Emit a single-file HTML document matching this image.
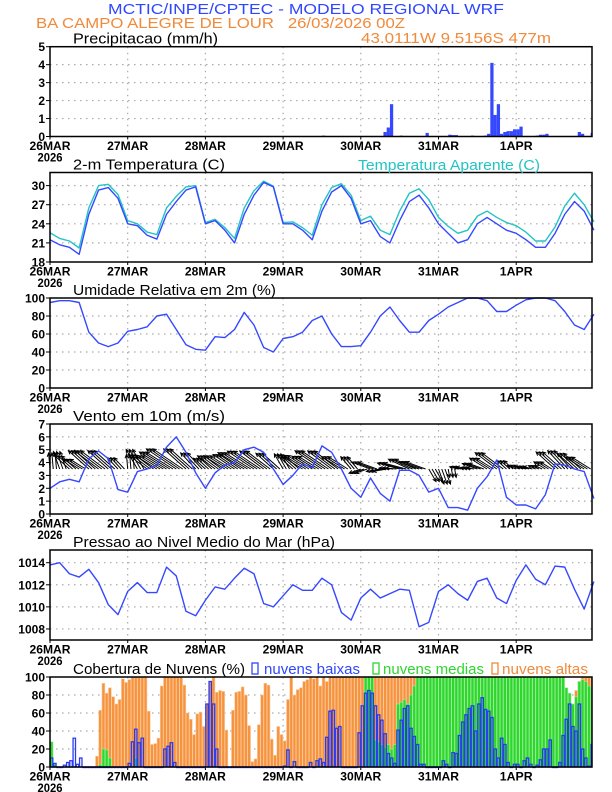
<!DOCTYPE html>
<html><head><meta charset="utf-8">
<style>
html,body{margin:0;padding:0;background:#fff;}
svg{display:block;font-family:"Liberation Sans",sans-serif;}
</style></head>
<body>
<svg id="chart" width="612" height="792" viewBox="0 0 612 792" xmlns="http://www.w3.org/2000/svg">
<rect x="0" y="0" width="612" height="792" fill="#fff"/>
<text x="108" y="14" font-size="15" fill="#2f46ff" textLength="396" lengthAdjust="spacingAndGlyphs">MCTIC/INPE/CPTEC - MODELO REGIONAL WRF</text>
<text x="36" y="28" font-size="15" fill="#f08a3c" textLength="369" lengthAdjust="spacingAndGlyphs" xml:space="preserve">BA CAMPO ALEGRE DE LOUR   26/03/2026 00Z</text>
<text x="361" y="43" font-size="15" fill="#f08a3c" textLength="190" lengthAdjust="spacingAndGlyphs">43.0111W 9.5156S 477m</text>
<g id="panels"></g>
</svg>
<script>
// ---------- DATA ----------
const dayLabels = ["26MAR","27MAR","28MAR","29MAR","30MAR","31MAR","1APR"];
const precipHourly = [
0,0,0,0,0,0,0,0,0,0,0,0, 0,0,0,0,0.03,0,0,0,0,0,0,0,
0,0,0.03,0,0,0,0,0,0,0,0,0, 0,0,0,0,0,0,0,0,0,0,0,0,
0,0,0,0,0,0,0,0,0,0,0,0, 0,0,0,0,0,0,0,0,0,0,0,0,
0,0,0,0,0,0,0,0,0,0,0,0, 0.05,0,0,0,0,0,0.03,0,0,0,0,0,
0,0,0,0,0,0,0,0.25,0.5,1.8,0,0, 0.05,0,0.03,0,0,0,0,0,0.2,0,0,0,
0,0,0,0.1,0.08,0.08,0,0,0,0,0.05,0, 0,0,0.05,0.15,4.1,1.2,1.8,0.15,0.25,0.3,0.3,0.4,
0.4,0.55,0,0,0,0,0.05,0.1,0.1,0.15,0,0, 0,0,0,0,0,0,0,0.25,0.15,0,0,0.2];
const precipTicks = [0,1,2,3,4,5];

const temp3h = [21.5,20.7,20.3,19.2,25.5,29.3,29.7,28.0,24.0,23.7,22.2,21.6,25.5,27.5,29.3,29.8,24.0,24.5,23.0,21.0,25.5,28.5,30.5,29.8,24.0,24.0,23.0,21.5,26.0,29.0,30.0,28.0,24.0,24.5,22.0,21.0,24.5,27.5,28.5,26.5,24.0,22.5,21.0,21.5,24.0,25.0,24.0,23.0,22.5,21.5,20.3,20.3,22.5,25.5,27.5,26.0,23.0];
const apparent3h = [22.6,21.7,21.3,20.2,26.5,30.0,30.2,28.6,24.5,24.0,22.7,22.3,26.5,28.3,29.8,30.0,24.2,24.7,23.4,21.7,26.5,29.2,30.7,29.9,24.2,24.3,23.4,22.2,27.0,29.7,30.3,28.5,24.5,25.2,23.0,22.3,26.0,28.8,29.5,27.8,25.0,23.6,22.5,23.0,25.2,26.0,25.0,24.2,23.7,22.7,21.3,21.3,23.5,26.8,28.8,27.0,24.3];
const tempTicks = [18,21,24,27,30];

const humidity3h = [95,97,97,95,62,50,46,50,63,65,68,80,82,65,48,43,42,57,56,65,84,70,45,40,55,57,62,75,80,60,46,46,47,62,80,90,75,62,62,75,82,90,95,100,100,97,85,85,92,98,100,100,97,85,70,65,82];
const humidityTicks = [0,20,40,60,80,100];

const windSpeed3h = [2.0,2.5,2.7,2.5,4.3,4.9,4.3,1.9,1.7,3.3,3.5,3.8,5.2,6.0,4.8,3.2,2.0,3.2,3.8,4.0,5.0,5.2,4.8,3.5,2.3,3.0,3.9,3.6,5.3,4.8,3.5,2.0,1.3,2.8,1.6,1.0,3.4,3.4,3.0,1.7,2.0,0.5,0.5,0.3,2.0,2.9,4.2,1.3,0.7,0.7,0.4,1.5,3.9,3.8,3.5,3.3,1.2];
const windDir3h = [95,110,138,148,138,143,138,133,95,120,143,148,148,146,138,133,138,143,148,146,148,146,143,138,120,138,148,148,146,143,148,130,200,160,190,175,165,155,160,300,290,280,165,170,160,148,143,138,158,165,155,148,138,133,138,148,130];
const windTicks = [0,1,2,3,4,5,6,7];

const pressure3h = [1013.8,1014.0,1013.0,1012.7,1013.4,1012.2,1010.2,1009.3,1011.4,1012.2,1011.3,1011.3,1013.6,1012.8,1009.6,1009.2,1010.6,1011.8,1011.6,1012.6,1013.5,1013.0,1010.3,1010.0,1011.0,1012.0,1011.5,1011.5,1012.6,1012.0,1009.5,1008.8,1010.8,1011.6,1010.8,1011.2,1011.6,1011.5,1008.2,1008.6,1011.4,1012.0,1011.2,1010.6,1012.3,1012.6,1010.8,1010.3,1012.4,1013.8,1012.5,1012.0,1013.7,1013.6,1011.6,1009.8,1012.3];
const pressureTicks = [1008,1010,1012,1014];

const cloudHigh = [
0,0,0,0,0,0,0,0,0,0,0,0, 0,0,12,63,93,82,88,78,70,75,98,94,
97,100,100,100,100,100,62,25,26,32,90,100, 100,100,100,100,100,91,60,53,36,59,61,45,
70,95,100,83,85,84,41,0,63,83,84,89, 80,46,6,9,47,80,93,91,31,13,45,36,
29,75,100,80,86,88,95,97,100,98,100,90, 100,95,100,100,100,100,100,100,100,100,100,100,
100,100,100,100,100,100,100,100,100,100,100,100, 100,100,100,100,100,100,100,100,100,100,100,100,
100,100,100,100,100,100,100,100,100,100,100,100, 100,100,100,100,100,100,100,100,100,100,100,100,
100,100,100,100,100,100,100,100,100,100,100,100, 100,100,100,80,75,70,85,95,100,100,100,100];
const cloudMid = [
28,3,0,0,0,0,0,0,0,0,0,0, 0,0,0,3,20,19,10,0,0,0,0,0,
0,0,10,0,0,0,0,0,0,0,0,0, 0,0,0,0,0,0,0,0,0,0,0,0,
0,0,0,0,0,0,0,0,0,0,0,0, 0,0,0,0,0,0,0,0,0,0,0,0,
0,0,0,0,0,0,0,0,0,0,0,0, 0,0,0,0,0,0,0,0,0,0,0,0,
0,100,100,100,30,28,25,22,25,20,25,70, 72,75,70,80,90,100,100,100,100,100,100,100,
100,100,100,100,100,100,100,100,100,100,100,100, 100,100,100,100,100,100,100,100,100,100,100,100,
100,100,100,100,100,100,100,100,100,100,100,100, 100,100,100,88,82,70,78,95,97,95,90,88];
const cloudLow = [
10,4,0,0,2,5,7,32,3,10,0,0, 0,0,0,0,0,0,0,0,0,0,0,0,
4,28,42,27,32,0,0,0,0,0,0,20, 23,27,5,0,0,0,0,0,0,0,0,0,
70,95,70,20,0,0,0,0,0,0,0,0, 0,0,0,0,0,0,0,0,0,0,0,0,
1,19,0,6,0,0,0,0,5,0,7,9, 5,33,62,63,43,45,0,0,0,0,0,38,
68,82,85,82,68,58,52,37,15,10,4,41, 52,65,68,43,34,25,3,3,0,0,0,0,
0,7,3,0,16,15,35,50,58,65,68,40, 70,77,64,62,55,20,10,32,25,5,0,3,
3,0,7,10,3,0,2,8,20,20,30,0, 0,5,35,53,70,45,40,70,20,10,1,25];
const cloudTicks = [0,20,40,60,80,100];

// ---------- LAYOUT ----------
const NS = "http://www.w3.org/2000/svg";
const X0 = 50, X1 = 592, DAYPX = 77.7;
const BLUE = "#3548ff";
const root = document.getElementById("panels");
function xAt(hour){ return X0 + hour * DAYPX / 24; }
function mk(tag, attrs, parent){
  const e = document.createElementNS(NS, tag);
  for (const k in attrs) e.setAttribute(k, attrs[k]);
  (parent || root).appendChild(e);
  return e;
}
function yScale(p){ return v => p.bottom - (v - p.min) / (p.max - p.min) * (p.bottom - p.top); }

function drawPanel(p){
  const g = mk("g", {});
  
  
  const ys = yScale(p);
  const grid = mk("g", {stroke:"#aaa","stroke-width":"1.2","stroke-dasharray":"1.5,4.5"}, g);
  
  
  p.ticks.forEach(t => { if (t > p.min && t < p.max) mk("line",{x1:X0,x2:X1,y1:ys(t),y2:ys(t)},grid); });
  for (let d = 1; d < 7; d++) mk("line",{x1:xAt(d*24),x2:xAt(d*24),y1:p.top,y2:p.bottom},grid);
  const title = mk("text",{x:73,y:p.top-3,"font-size":"15",fill:"#000",textLength:p.titleLen,lengthAdjust:"spacingAndGlyphs"},g);
  title.textContent = p.title;
  
  
  const yl = mk("g",{"font-size":"12","font-weight":"bold","text-anchor":"end",fill:"#000"},g);
  
  
  p.ticks.forEach(t => {
    const tx = mk("text",{x:45,y:ys(t)+4.5},yl); tx.textContent = t;
    mk("line",{x1:46,x2:50,y1:ys(t),y2:ys(t),stroke:"#000"},yl);
  });
  const xl = mk("g",{"font-size":"12","font-weight":"bold","text-anchor":"middle",fill:"#000"},g);
  
  
  dayLabels.forEach((lab,d) => {
    const tx = mk("text",{x:xAt(d*24),y:p.bottom+13.5,textLength:lab.length*8.2,lengthAdjust:"spacingAndGlyphs"},xl); tx.textContent = lab;
    mk("line",{x1:xAt(d*24),x2:xAt(d*24),y1:p.bottom,y2:p.bottom+3,stroke:"#000"},xl);
  });
  const yr = mk("text",{x:X0,y:p.bottom+25,textLength:"25",lengthAdjust:"spacingAndGlyphs"},xl); yr.textContent = "2026";
  const marks = mk("g",{},g);
  
  
  p.draw(marks, ys);
  const fr = mk("rect",{x:X0,y:p.top,width:X1-X0,height:p.bottom-p.top,fill:"none",stroke:"#000","stroke-width":"1.5"},g);
  
  
}
function linePath(arr, ys, step){
  return arr.map((v,i)=>(i?"L":"M")+xAt(i*step).toFixed(2)+","+ys(v).toFixed(2)).join("");
}
function addLine(g, arr, ys, color, name){
  const l = mk("path",{d:linePath(arr,ys,3),fill:"none",stroke:color,"stroke-width":"1.4","stroke-linejoin":"round"},g);
  
  
}
function clipX(x){ return Math.min(x, X1); }

// Precip
drawPanel({name:"precipitation",title:"Precipitacao (mm/h)",titleLen:145,top:46.7,bottom:136.5,min:0,max:5,ticks:precipTicks,
  draw:(g,ys)=>{ precipHourly.forEach((v,h)=>{ if(v<=0) return;
    const b = mk("rect",{x:xAt(h),y:ys(v),width:Math.max(0,clipX(xAt(h+1))-xAt(h)),height:ys(0)-ys(v),fill:BLUE},g);
    
     }); }});

// Temperature
drawPanel({name:"temperature",title:"2-m Temperatura (C)",titleLen:152,top:172.5,bottom:262,min:18,max:32.06,ticks:tempTicks,
  draw:(g,ys)=>{ addLine(g,apparent3h,ys,"#22c4c4","apparent-temperature-line"); addLine(g,temp3h,ys,BLUE,"temperature-line"); }});
(function(){ const t = mk("text",{x:358,y:170,"font-size":"15",fill:"#22c4c4",textLength:"182",lengthAdjust:"spacingAndGlyphs"});
  t.textContent = "Temperatura Aparente (C)";
  
   })();

// Humidity
drawPanel({name:"humidity",title:"Umidade Relativa em 2m (%)",titleLen:203,top:298,bottom:388,min:0,max:100,ticks:humidityTicks,
  draw:(g,ys)=>addLine(g,humidity3h,ys,BLUE,"humidity-line")});

// Wind
drawPanel({name:"wind",title:"Vento em 10m (m/s)",titleLen:152,top:424,bottom:514,min:0,max:7,ticks:windTicks,
  draw:(g,ys)=>{
    const ag = mk("g",{stroke:"#000","stroke-width":"1",fill:"none"},g);
    
    
    const by = ys(3.5);
    for (let h=0; h<168; h++){
      const i = Math.floor(h/3);
      const len = 6 + windSpeed3h[i]*5;
      const a = windDir3h[i]*Math.PI/180;
      const bx = xAt(h), tx = bx + len*Math.cos(a), ty = by - len*Math.sin(a);
      const ha = 0.45, hl = 4;
      const back = Math.atan2(by-ty, bx-tx);
      const p1x = tx + hl*Math.cos(back+ha), p1y = ty + hl*Math.sin(back+ha);
      const p2x = tx + hl*Math.cos(back-ha), p2y = ty + hl*Math.sin(back-ha);
      const ar = mk("path",{d:`M${bx},${by}L${tx},${ty}M${p1x},${p1y}L${tx},${ty}L${p2x},${p2y}`},ag);
      
      
    }
    addLine(g,windSpeed3h,ys,BLUE,"wind-speed-line");
  }});

// Pressure
drawPanel({name:"pressure",title:"Pressao ao Nivel Medio do Mar (hPa)",titleLen:262,top:550,bottom:640,min:1007,max:1015.15,ticks:pressureTicks,
  draw:(g,ys)=>addLine(g,pressure3h,ys,BLUE,"pressure-line")});

// Clouds
drawPanel({name:"cloud-cover",title:"Cobertura de Nuvens (%)",titleLen:172,top:677,bottom:767,min:0,max:100,ticks:cloudTicks,
  draw:(g,ys)=>{
    const series = [[cloudHigh,"#f5943f","#ffc79a","cloud-high-bar"],[cloudMid,"#2ed62e","#9af09a","cloud-mid-bar"]];
    series.forEach(([arr,fill,edge,nm])=>{
      arr.forEach((v,h)=>{ if(v<=0) return;
        const x = xAt(h), w = Math.max(0, clipX(xAt(h+1))-x-0.4);
        const b = mk("rect",{x:x+0.2,y:ys(v),width:w,height:ys(0)-ys(v),fill:fill,stroke:edge,"stroke-width":"0.6"},g);
        
        
      });
    });
    cloudLow.forEach((v,h)=>{
      const x = xAt(h), w = Math.max(0, clipX(xAt(h+1))-x-0.8);
      const b = mk("rect",{x:x+0.4,y:ys(v),width:w,height:Math.max(0.5,ys(0)-ys(v)),fill:"none",stroke:"#2a3cf0","stroke-width":"1.3"},g);
      
      
    });
  }});
(function(){
  const items = [["nuvens baixas","#2f46ff",252,264,96,"legend-low-clouds"],["nuvens medias","#2ed62e",373,383,101,"legend-mid-clouds"],["nuvens altas","#f08a3c",492,502,86,"legend-high-clouds"]];
  items.forEach(([txt,col,sx,tx,tl,nm])=>{
    const g = mk("g",{});
    
    
    mk("rect",{x:sx,y:663,width:6,height:11,fill:"none",stroke:col,"stroke-width":"1.3"},g);
    const t = mk("text",{x:tx,y:674,"font-size":"15",fill:col,textLength:tl,lengthAdjust:"spacingAndGlyphs"},g);
    t.textContent = txt;
  });
})();
</script>
</body></html>
